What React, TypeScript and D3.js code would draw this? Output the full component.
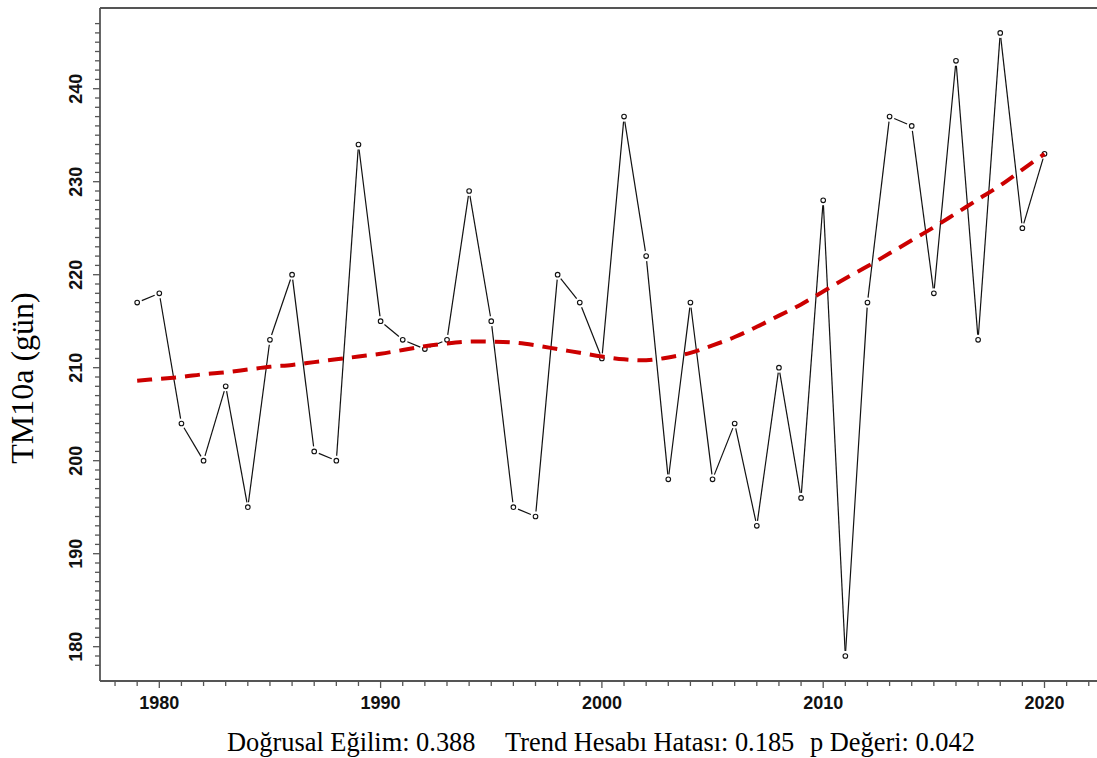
import * as d3 from "d3";

// yearly values
const years = [
  1979, 1980, 1981, 1982, 1983, 1984, 1985, 1986, 1987, 1988, 1989, 1990, 1991, 1992,
  1993, 1994, 1995, 1996, 1997, 1998, 1999, 2000, 2001, 2002, 2003, 2004, 2005, 2006,
  2007, 2008, 2009, 2010, 2011, 2012, 2013, 2014, 2015, 2016, 2017, 2018, 2019, 2020,
];
const tm10a = [
  217, 218, 204, 200, 208, 195, 213, 220, 201, 200, 234, 215, 213, 212,
  213, 229, 215, 195, 194, 220, 217, 211, 237, 222, 198, 217, 198, 204,
  193, 210, 196, 228, 179, 217, 237, 236, 218, 243, 213, 246, 225, 233,
];
// smoothed trend (red dashed)
const smooth = [
  208.6, 208.8, 209.0, 209.3, 209.5, 209.8, 210.1, 210.3, 210.6, 210.9, 211.2, 211.5, 211.9, 212.3,
  212.6, 212.8, 212.8, 212.7, 212.4, 212.0, 211.6, 211.2, 210.9, 210.8, 211.1, 211.6, 212.4, 213.3,
  214.4, 215.6, 216.8, 218.2, 219.6, 220.9, 222.3, 223.7, 225.1, 226.6, 228.1, 229.6, 231.3, 233.0,
];
const yMajor = [180, 190, 200, 210, 220, 230, 240];
const xMajor = [1980, 1990, 2000, 2010, 2020];
const yLabel = "TM10a (gün)";
const footer = ["Doğrusal Eğilim: 0.388", "Trend Hesabı Hatası: 0.185", "p Değeri: 0.042"];

const W = 1097;
const H = 758;
const left = 100;
const top = 8;
const bottom = 681;

export default function App() {
  const x = d3.scaleLinear().domain([1980, 2020]).range([159.3, 1044.5]);
  const y = d3.scaleLinear().domain([180, 240]).range([646.7, 88.7]);

  const yMinor = d3.range(178, 248);
  const xMinor = d3.range(1978, 2023);

  const pts = years.map((yr, i) => [x(yr), y(tm10a[i])] as [number, number]);
  // R type="b": segments stop short of the circles
  const gap = 5;
  const segs = pts.slice(1).map((p, i) => {
    const a = pts[i];
    const dx = p[0] - a[0];
    const dy = p[1] - a[1];
    const len = Math.hypot(dx, dy);
    if (len <= gap * 2) return null;
    const ux = dx / len;
    const uy = dy / len;
    return [a[0] + ux * gap, a[1] + uy * gap, p[0] - ux * gap, p[1] - uy * gap];
  });

  const trend = d3
    .line<number>()
    .x((_, i) => x(years[i]))
    .y((d) => y(d))
    .curve(d3.curveCatmullRom)(smooth);

  const axisColor = "#555";
  const tickFont = {
    fontFamily: "Liberation Sans, Arial, sans-serif",
    fontSize: 18,
    fontWeight: 700,
    fill: "#111",
  };
  const serif = "Liberation Serif, Times New Roman, serif";

  return (
    <svg
      width={W}
      height={H}
      style={{ position: "absolute", left: 0, top: 0, background: "#fff" }}
    >
      {/* frame: left axis, top line, bottom axis */}
      <line x1={left} x2={left} y1={top} y2={bottom} stroke={axisColor} strokeWidth={1.8} />
      <line x1={left} x2={W} y1={top} y2={top} stroke={axisColor} strokeWidth={1.8} />
      <line x1={left} x2={W} y1={bottom} y2={bottom} stroke={axisColor} strokeWidth={1.8} />

      {yMinor.map((v) => (
        <line
          key={"ym" + v}
          x1={left}
          x2={left - (v % 10 === 0 ? 7 : 5)}
          y1={y(v)}
          y2={y(v)}
          stroke={axisColor}
          strokeWidth={1.3}
        />
      ))}
      {yMajor.map((v) => (
        <text
          key={"yl" + v}
          transform={`translate(82,${y(v)}) rotate(-90)`}
          textAnchor="middle"
          style={tickFont}
        >
          {v}
        </text>
      ))}

      {xMinor.map((v) => (
        <line
          key={"xm" + v}
          x1={x(v)}
          x2={x(v)}
          y1={bottom}
          y2={bottom + (v % 10 === 0 ? 7 : 5)}
          stroke={axisColor}
          strokeWidth={1.3}
        />
      ))}
      {xMajor.map((v) => (
        <text key={"xl" + v} x={x(v)} y={709} textAnchor="middle" style={tickFont}>
          {v}
        </text>
      ))}

      {/* observed series */}
      {segs.map((s, i) =>
        s ? (
          <line key={"s" + i} x1={s[0]} y1={s[1]} x2={s[2]} y2={s[3]} stroke="#111" strokeWidth={1.2} />
        ) : null
      )}
      {pts.map((p, i) => (
        <circle key={"p" + i} cx={p[0]} cy={p[1]} r={2.3} fill="#fff" stroke="#111" strokeWidth={1.1} />
      ))}

      {/* trend */}
      <path
        d={trend ?? ""}
        fill="none"
        stroke="#cc0000"
        strokeWidth={4}
        strokeDasharray="15 9"
      />

      <text
        transform={`translate(33,${378}) rotate(-90)`}
        textAnchor="middle"
        style={{ fontFamily: serif, fontSize: 32 }}
      >
        {yLabel}
      </text>

      <text x={227} y={751} style={{ fontFamily: serif, fontSize: 26.4 }}>
        {footer[0]}
      </text>
      <text x={505} y={751} style={{ fontFamily: serif, fontSize: 26.4 }}>
        {footer[1]}
      </text>
      <text x={810} y={751} style={{ fontFamily: serif, fontSize: 26.4 }}>
        {footer[2]}
      </text>
    </svg>
  );
}
